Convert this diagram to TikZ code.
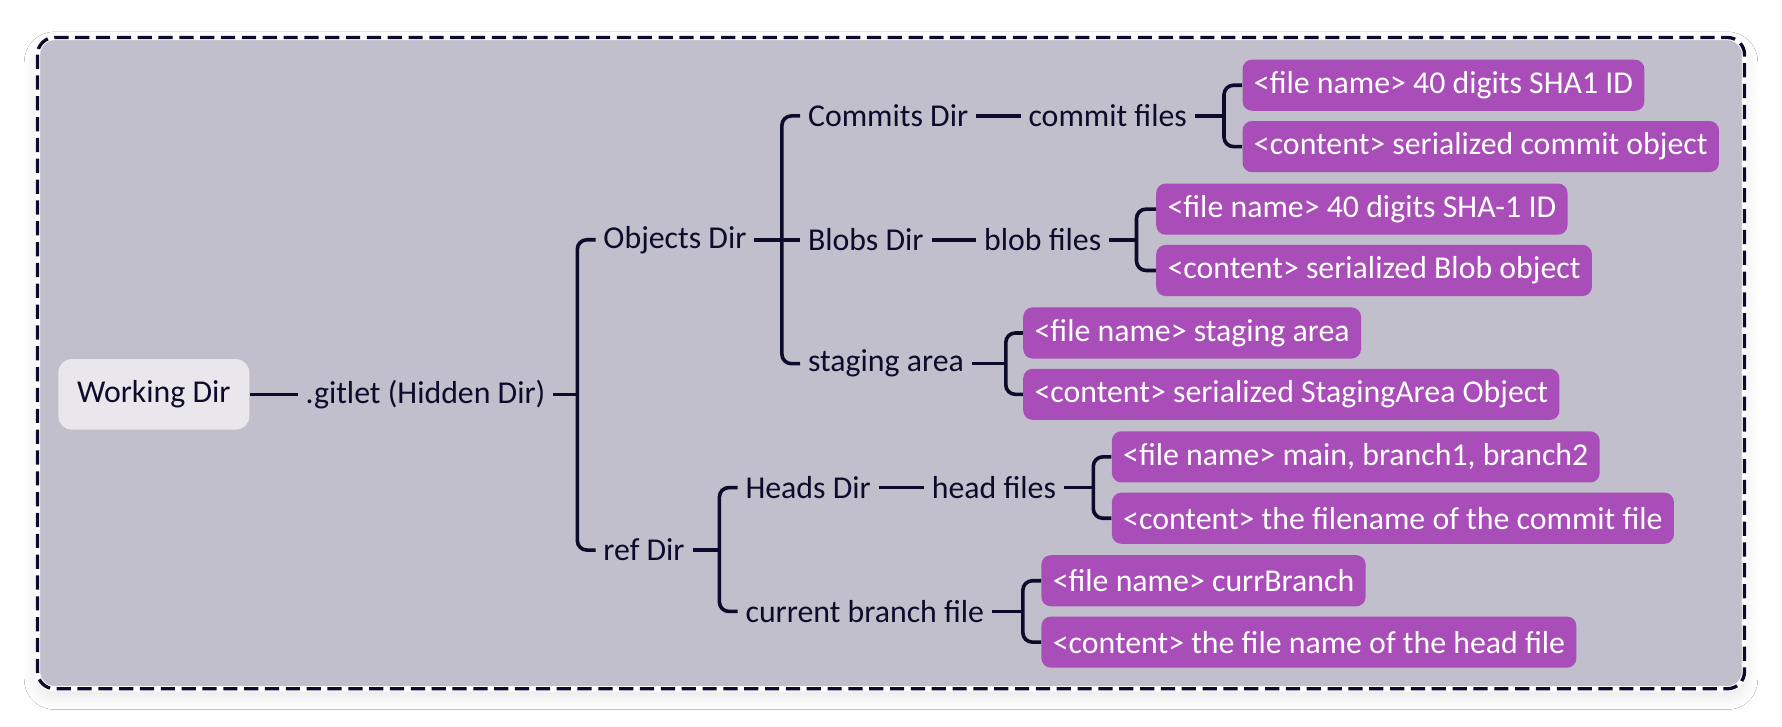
\documentclass[tikz,border=0pt]{standalone}
\usepackage{fontspec}
\setmainfont{Carlito}
\usetikzlibrary{positioning, calc, shadows.blur}

\definecolor{ink}{RGB}{12,11,43}
\definecolor{panel}{RGB}{192,191,203}
\definecolor{leaf}{RGB}{169,77,184}
\definecolor{rootfill}{RGB}{233,230,236}

\begin{document}
\begin{tikzpicture}[x=0.6pt, y=-0.6pt, font=\fontsize{16.8}{19}\selectfont,
    dirtext/.style={text=ink, inner xsep=4pt, inner ysep=2pt, anchor=west},
    rootbox/.style={fill=rootfill, text=ink, rounded corners=7pt, minimum width=100.8pt, minimum height=37.2pt, anchor=west},
    leafbox/.style={fill=leaf, text=white, rounded corners=5pt, minimum height=27pt, inner xsep=6pt, anchor=west},
    link/.style={draw=ink, line width=1.9pt},
    bracket/.style={link, rounded corners=5pt}]
    \useasboundingbox (0,0) rectangle (1568,639);
    \fill[white] (0,0) rectangle (1568,639);
    % panel
    \path[fill=panel, rounded corners=9pt, blur shadow={shadow blur radius=7pt, shadow blur steps=16, shadow xshift=0pt, shadow yshift=-4pt, shadow opacity=10}] (33,33) rectangle (1535,606);
    \draw[white, line width=2.8pt, rounded corners=9pt] (33,33) rectangle (1535,606);
    \draw[ink, line width=1.75pt, dash pattern=on 7.5pt off 3.5pt, rounded corners=9pt] (33,33) rectangle (1535,606);

    % left part
    \node[rootbox] (wd) at (51,347) {Working Dir};
    \node[dirtext] (git) at (262,347) {.gitlet (Hidden Dir)};
    \node[dirtext] (obj) at (524,211) {Objects Dir};
    \node[dirtext] (ref) at (524,484) {ref Dir};

    % objects
    \node[dirtext] (cmt) at (704,102) {Commits Dir};
    \node[dirtext] (cmtf) at (898,102) {commit files};
    \node[dirtext] (blob) at (704,211) {Blobs Dir};
    \node[dirtext] (blobf) at (859,211) {blob files};
    \node[dirtext] (stg) at (704,320) {staging area};

    % refs
    \node[dirtext] (heads) at (649,429) {Heads Dir};
    \node[dirtext] (headf) at (813,429) {head files};
    \node[dirtext] (cur) at (649,538) {current branch file};

    % leaves
    \node[leafbox] (cmtA) at (1093,75) {<file name> 40 digits SHA1 ID};
    \node[leafbox] (cmtB) at (1093,129) {<content> serialized commit object};
    \node[leafbox] (blobA) at (1017,184) {<file name> 40 digits SHA-1 ID};
    \node[leafbox] (blobB) at (1017,238) {<content> serialized Blob object};
    \node[leafbox] (stgA) at (900,293) {<file name> staging area};
    \node[leafbox] (stgB) at (900,347) {<content> serialized StagingArea Object};
    \node[leafbox] (headA) at (978,402) {<file name> main, branch1, branch2};
    \node[leafbox] (headB) at (978,456) {<content> the filename of the commit file};
    \node[leafbox] (curA) at (916,511) {<file name> currBranch};
    \node[leafbox] (curB) at (916,565) {<content> the file name of the head file};

    % spines
    \coordinate (s1) at (508,347);
    \coordinate (s2) at (688,211);
    \coordinate (s3) at (633,484);
    \coordinate (s4) at (1077,102);
    \coordinate (s5) at (1000,211);
    \coordinate (s6) at (885,320);
    \coordinate (s7) at (962,429);
    \coordinate (s8) at (900,538);

    % connectors
    \draw[link] (wd.east) -- (git.west);
    \draw[link] (git.east) -- (s1);
    \draw[bracket] (obj.west) -| (s1) |- (ref.west);
    \draw[link] (obj.east) -- (blob.west);
    \draw[bracket] (cmt.west) -| (s2) |- (stg.west);
    \draw[link] (ref.east) -- (s3);
    \draw[bracket] (heads.west) -| (s3) |- (cur.west);

    \draw[link] (cmt.east) -- (cmtf.west);
    \draw[link] (cmtf.east) -- (s4);
    \draw[bracket] (cmtA.west) -| (s4) |- (cmtB.west);
    \draw[link] (blob.east) -- (blobf.west);
    \draw[link] (blobf.east) -- (s5);
    \draw[bracket] (blobA.west) -| (s5) |- (blobB.west);
    \draw[link] (stg.east) -- (s6);
    \draw[bracket] (stgA.west) -| (s6) |- (stgB.west);

    \draw[link] (heads.east) -- (headf.west);
    \draw[link] (headf.east) -- (s7);
    \draw[bracket] (headA.west) -| (s7) |- (headB.west);
    \draw[link] (cur.east) -- (s8);
    \draw[bracket] (curA.west) -| (s8) |- (curB.west);
\end{tikzpicture}
\end{document}
